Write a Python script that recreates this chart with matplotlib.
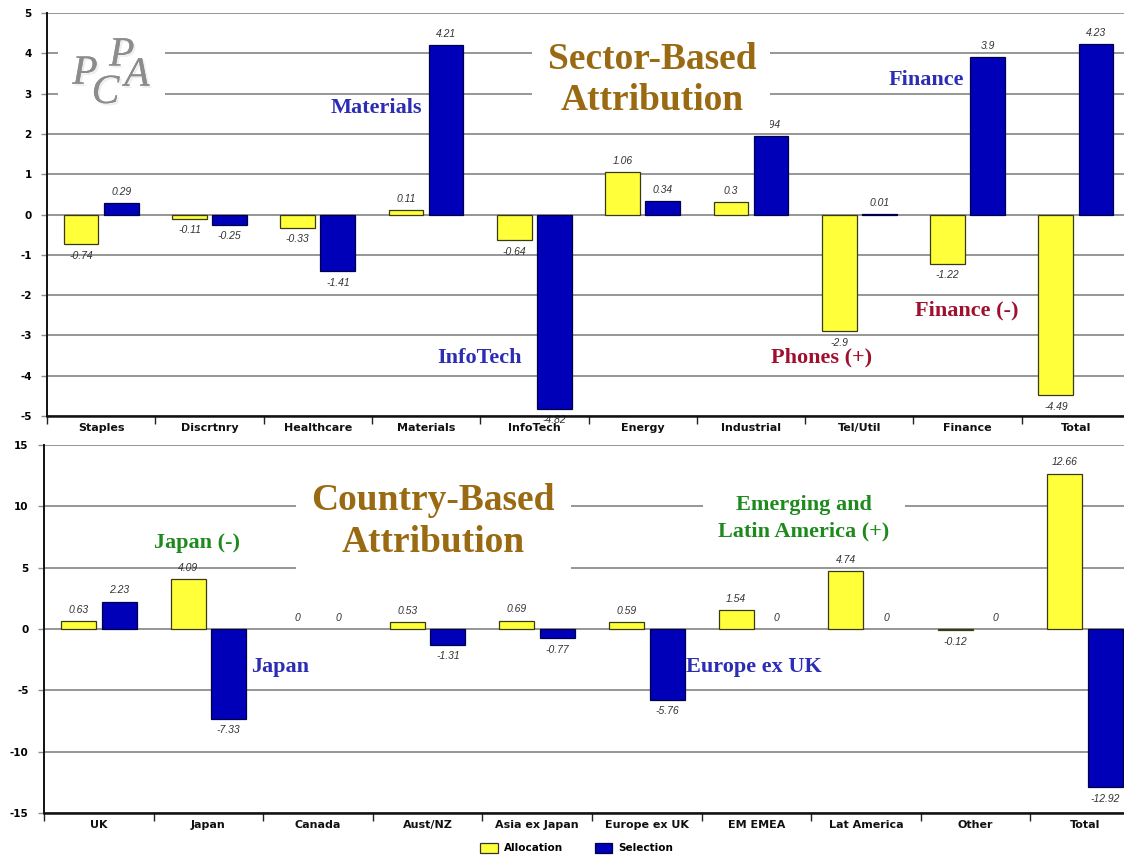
import matplotlib
matplotlib.use("Agg")
import matplotlib.pyplot as plt
import matplotlib.patheffects as pe
from matplotlib.patches import Patch, Rectangle
import numpy as np

# ---- data -------------------------------------------------------------
sectors = ["Staples", "Discrtnry", "Healthcare", "Materials", "InfoTech",
           "Energy", "Industrial", "Tel/Util", "Finance", "Total"]
sector_allocation = [-0.74, -0.11, -0.33, 0.11, -0.64, 1.06, 0.3, -2.9, -1.22, -4.49]
sector_selection = [0.29, -0.25, -1.41, 4.21, -4.82, 0.34, 1.94, 0.01, 3.9, 4.23]
sector_yticks = [-5, -4, -3, -2, -1, 0, 1, 2, 3, 4, 5]

countries = ["UK", "Japan", "Canada", "Aust/NZ", "Asia ex Japan",
             "Europe ex UK", "EM EMEA", "Lat America", "Other", "Total"]
country_allocation = [0.63, 4.09, 0, 0.53, 0.69, 0.59, 1.54, 4.74, -0.12, 12.66]
country_selection = [2.23, -7.33, 0, -1.31, -0.77, -5.76, 0, 0, 0, -12.92]
country_yticks = [-15, -10, -5, 0, 5, 10, 15]

series_names = ["Allocation", "Selection"]

# ---- styling ----------------------------------------------------------
YELLOW = "#ffff3a"
BLUE = "#0000b8"
GRID = "#8e8e8e"
GOLD = "#9a6a12"
NAVY_TXT = "#2c2cb4"
RED_TXT = "#a0102e"
GREEN_TXT = "#1e8a1e"
SERIF = ["Liberation Serif", "DejaVu Serif"]
SANS = ["Liberation Sans", "DejaVu Sans"]

W, H = 1124, 856
fig = plt.figure(figsize=(W / 100, H / 100), dpi=100)
fig.patch.set_facecolor("white")

ax_top = fig.add_axes([47 / W, 1 - 416 / H, 1083 / W, 403 / H])
ax_bot = fig.add_axes([44 / W, 1 - 813 / H, 1096 / W, 368 / H])


def draw_panel(ax, cats, alloc, sel, yticks):
    x = np.arange(len(cats))
    width, shift = 0.32, 0.185
    ax.bar(x - shift, alloc, width, color=YELLOW, edgecolor="#3a3a14",
           linewidth=[0.9 if v != 0 else 0 for v in alloc], zorder=3)
    ax.bar(x + shift, sel, width, color=BLUE, edgecolor="#00004a",
           linewidth=[0.9 if v != 0 else 0 for v in sel], zorder=3)
    for xs, vals in ((x - shift, alloc), (x + shift, sel)):
        for xi, v in zip(xs, vals):
            up = v >= 0
            ax.annotate(f"{v:g}", (xi, v), xytext=(0, 4.5 if up else -4.5),
                        textcoords="offset points", ha="center",
                        va="bottom" if up else "top", fontsize=7.5,
                        style="italic", family=SANS, color="#333333",
                        zorder=4)

    ax.set_xlim(-0.5, len(cats) - 0.5)
    ax.set_ylim(yticks[0], yticks[-1])
    for yt in yticks:
        ax.axhline(yt, color=GRID, lw=1.3, zorder=0)

    for s in ("top", "right"):
        ax.spines[s].set_visible(False)
    ax.spines["left"].set_color("#111111")
    ax.spines["left"].set_linewidth(1.4)
    ax.spines["bottom"].set_color("#111111")
    ax.spines["bottom"].set_linewidth(1.8)
    ax.spines["left"].set_zorder(5)
    ax.spines["bottom"].set_zorder(5)

    ax.set_yticks(yticks)
    ax.set_yticklabels([str(t) for t in yticks], fontsize=7.5,
                       fontweight="bold", family=["DejaVu Sans"])
    ax.tick_params(axis="y", length=4, width=1, color=GRID, pad=7)

    ax.set_xticks(x)
    ax.set_xticklabels(cats, fontsize=8, fontweight="bold",
                       family=["DejaVu Sans"], color="#111111")
    ax.set_xticks(np.arange(-0.5, len(cats)), minor=True)
    ax.tick_params(axis="x", which="major", length=0, pad=5)
    ax.tick_params(axis="x", which="minor", length=6, width=1,
                   color="#222222", direction="out")


def blank(ax, x0, x1, y0, y1):
    ax.add_patch(Rectangle((x0, y0), x1 - x0, y1 - y0, facecolor="white",
                           edgecolor="none", zorder=4.5))


def note(ax, x, y, s, color, size=16, ls=1.2):
    ax.text(x, y, s, color=color, fontsize=size, fontweight="bold",
            family=SERIF, ha="center", va="center", linespacing=ls, zorder=6)


draw_panel(ax_top, sectors, sector_allocation, sector_selection, sector_yticks)
draw_panel(ax_bot, countries, country_allocation, country_selection, country_yticks)

# ---- sector panel notes -------------------------------------------------
blank(ax_top, -0.40, 0.59, 2.64, 4.38)
shadow = [pe.withSimplePatchShadow(offset=(1.5, -1.5), shadow_rgbFace="#c8c8c8"),
          pe.Normal()]
for ch, lx, ly in (("P", -0.15, 3.50), ("P", 0.19, 3.95),
                   ("C", 0.04, 3.02), ("A", 0.33, 3.45)):
    ax_top.text(lx, ly, ch, fontsize=30, style="italic", family=SERIF,
                color="#8c8c8c", ha="center", va="center", zorder=6,
                path_effects=shadow)

blank(ax_top, 3.98, 6.18, 2.07, 4.70)
note(ax_top, 5.09, 3.33, "Sector-Based\nAttribution", GOLD, size=27, ls=1.22)
note(ax_top, 2.54, 2.64, "Materials", NAVY_TXT)
note(ax_top, 3.49, -3.56, "InfoTech", NAVY_TXT)
note(ax_top, 6.65, -3.56, "Phones (+)", RED_TXT)
note(ax_top, 7.99, -2.37, "Finance (-)", RED_TXT)
note(ax_top, 7.62, 3.34, "Finance", NAVY_TXT)

# ---- country panel notes ------------------------------------------------
blank(ax_bot, 1.80, 4.31, 4.32, 13.29)
note(ax_bot, 3.05, 8.75, "Country-Based\nAttribution", GOLD, size=27, ls=1.27)
blank(ax_bot, 5.51, 7.36, 6.20, 11.74)
note(ax_bot, 6.43, 9.05, "Emerging and\nLatin America (+)", GREEN_TXT, ls=1.4)
note(ax_bot, 0.90, 7.01, "Japan (-)", GREEN_TXT)
note(ax_bot, 1.65, -3.09, "Japan", NAVY_TXT)
note(ax_bot, 5.98, -3.09, "Europe ex UK", NAVY_TXT)

# ---- legend -------------------------------------------------------------
handles = [Patch(facecolor=YELLOW, edgecolor="#333333", linewidth=0.9),
           Patch(facecolor=BLUE, edgecolor="#00004a", linewidth=0.9)]
fig.legend(handles, series_names, loc="center", ncol=2, frameon=False,
           bbox_to_anchor=(577 / W, 1 - 848 / H),
           prop={"family": "DejaVu Sans", "weight": "bold", "size": 7.5},
           handlelength=1.7, handleheight=1.1, columnspacing=3.0,
           handletextpad=0.6)

fig.savefig("out.png", dpi=100, facecolor="white")
